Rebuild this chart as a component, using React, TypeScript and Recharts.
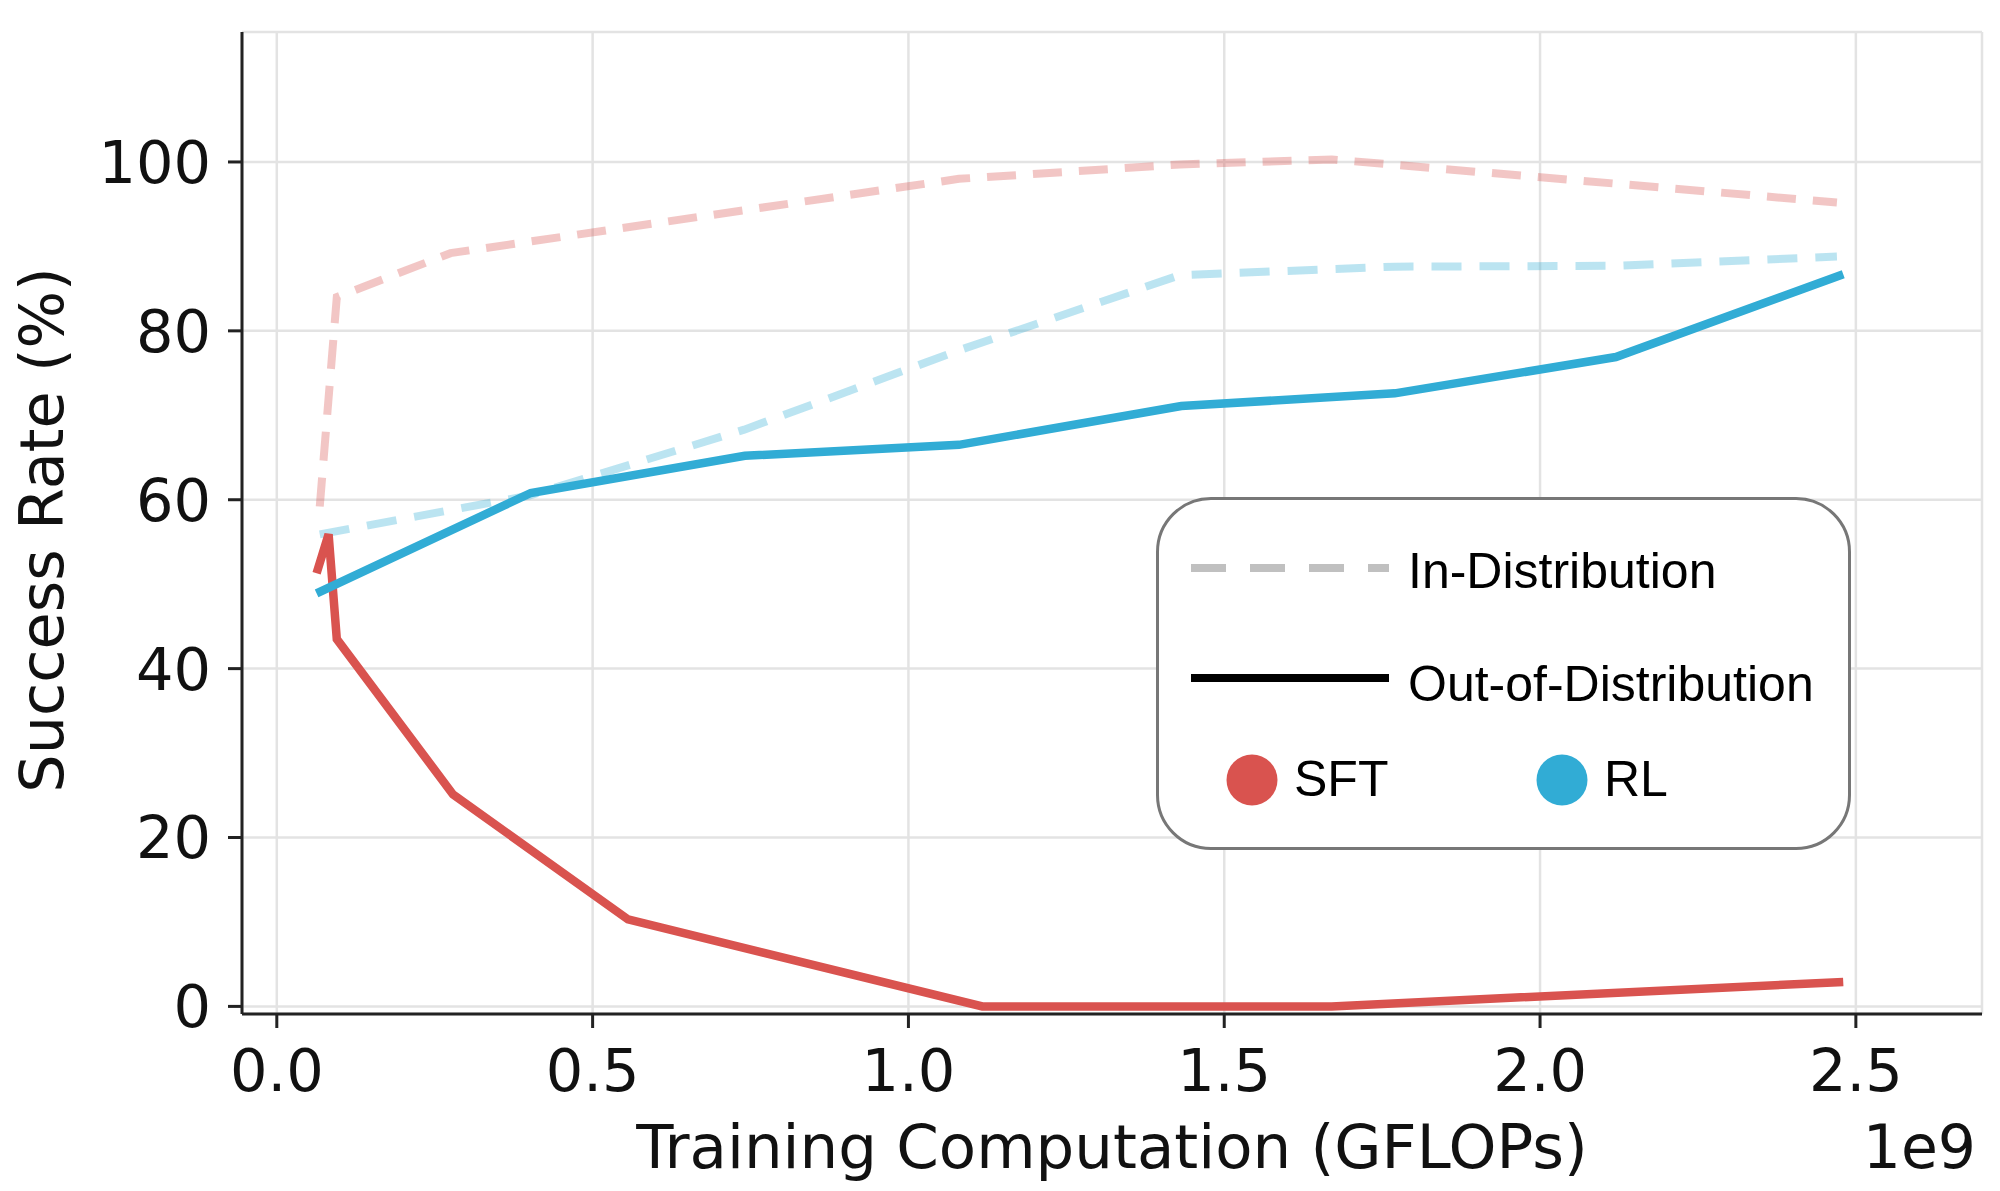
import React from "react";
import { LineChart, Line, XAxis, YAxis, CartesianGrid, Legend, Label } from "recharts";

// ---- data (x in units of 1e9 GFLOPs, y in %) ----
const sftIdX = [0.068, 0.095, 0.275, 1.08, 1.43, 1.67, 2.47];
const sftIdY = [59.2, 84.0, 89.2, 98.0, 99.7, 100.3, 95.2];

const rlIdX = [0.068, 0.40, 0.74, 1.08, 1.43, 1.77, 2.12, 2.47];
const rlIdY = [55.9, 60.5, 68.3, 77.7, 86.6, 87.6, 87.7, 88.8];

const sftOodX = [0.063, 0.082, 0.095, 0.279, 0.556, 1.117, 1.67, 2.48];
const sftOodY = [51.3, 55.9, 43.5, 25.1, 10.3, 0, 0, 2.9];

const rlOodX = [0.063, 0.402, 0.741, 1.08, 1.432, 1.77, 2.12, 2.48];
const rlOodY = [48.9, 60.8, 65.2, 66.5, 71.1, 72.6, 76.9, 86.7];

const xTicks = [0, 0.5, 1.0, 1.5, 2.0, 2.5];
const yTicks = [0, 20, 40, 60, 80, 100];
const xDomain = [-0.0551, 2.6997];
const yDomain = [-0.9, 115.39];

const xTitle = "Training Computation (GFLOPs)";
const xExponent = "1e9";
const yTitle = "Success Rate (%)";

const styleItems = [
  { label: "In-Distribution", dashed: true },
  { label: "Out-of-Distribution", dashed: false },
];
const methodItems = [
  { label: "SFT", color: "#D9534F" },
  { label: "RL", color: "#31ACD5" },
];

const RED = "#D9534F";
const BLUE = "#31ACD5";

const toPoints = (xs: number[], ys: number[]) => xs.map((x, i) => ({ x, y: ys[i] }));
const sftId = toPoints(sftIdX, sftIdY);
const rlId = toPoints(rlIdX, rlIdY);
const sftOod = toPoints(sftOodX, sftOodY);
const rlOod = toPoints(rlOodX, rlOodY);

const AXIS_FONT = "DejaVu Sans";
const LEGEND_FONT = "Liberation Sans, Arial, sans-serif";

function LegendBox() {
  return (
    <div
      style={{
        position: "relative",
        boxSizing: "border-box",
        width: 695,
        height: 353,
        border: "3px solid #777",
        borderRadius: 55,
        background: "#fff",
      }}
    >
      <svg
        width={695}
        height={353}
        style={{ position: "absolute", left: -3, top: -3, overflow: "visible" }}
      >
        {styleItems.map((it, i) => {
          const y = i === 0 ? 71 : 181;
          const ty = i === 0 ? 91 : 204;
          return (
            <g key={it.label}>
              <line
                x1={35}
                x2={233}
                y1={y}
                y2={y}
                stroke={it.dashed ? "#C0C0C0" : "#000"}
                strokeWidth={8}
                strokeDasharray={it.dashed ? "35 24" : undefined}
              />
              <text x={252} y={ty} fontFamily={LEGEND_FONT} fontSize={50} fill="#000">
                {it.label}
              </text>
            </g>
          );
        })}
        {methodItems.map((it, i) => {
          const cx = i === 0 ? 96 : 406;
          return (
            <g key={it.label}>
              <circle cx={cx} cy={283} r={25.5} fill={it.color} />
              <text x={cx + 42} y={299} fontFamily={LEGEND_FONT} fontSize={50} fill="#000">
                {it.label}
              </text>
            </g>
          );
        })}
      </svg>
    </div>
  );
}

export default function App() {
  return (
    <div style={{ position: "absolute", left: 0, top: 0, width: 2000, height: 1191, background: "#fff" }}>
      <LineChart width={2000} height={1191} margin={{ top: 32, right: 18, bottom: 77, left: 112 }}>
        <CartesianGrid stroke="#E3E3E3" strokeWidth={2.5} />
        <XAxis
          type="number"
          dataKey="x"
          domain={xDomain}
          ticks={xTicks}
          interval={0}
          allowDataOverflow
          tickFormatter={(v: number) => v.toFixed(1)}
          height={100}
          tickSize={14}
          tickMargin={21}
          axisLine={{ stroke: "#222", strokeWidth: 3 }}
          tickLine={{ stroke: "#222", strokeWidth: 3 }}
          tick={{ fontSize: 59, fill: "#111", fontFamily: AXIS_FONT }}
        >
          <Label
            content={() => (
              <g>
                <text x={1112} y={1168} textAnchor="middle" fontFamily={AXIS_FONT} fontSize={61} fill="#111">
                  {xTitle}
                </text>
                <text x={1976} y={1168} textAnchor="end" fontFamily={AXIS_FONT} fontSize={60} fill="#111">
                  {xExponent}
                </text>
              </g>
            )}
          />
        </XAxis>
        <YAxis
          type="number"
          domain={yDomain}
          ticks={yTicks}
          interval={0}
          allowDataOverflow
          width={130}
          tickSize={14}
          tickMargin={17}
          axisLine={{ stroke: "#222", strokeWidth: 3 }}
          tickLine={{ stroke: "#222", strokeWidth: 3 }}
          tick={{ fontSize: 59, fill: "#111", fontFamily: AXIS_FONT }}
        >
          <Label
            content={() => (
              <text
                x={63}
                y={530}
                transform="rotate(-90 63 530)"
                textAnchor="middle"
                fontFamily={AXIS_FONT}
                fontSize={60.5}
                fill="#111"
              >
                {yTitle}
              </text>
            )}
          />
        </YAxis>
        <Legend
          layout="vertical"
          align="center"
          verticalAlign="middle"
          wrapperStyle={{ left: 1156, top: 497, width: 695, height: 353 }}
          content={() => <LegendBox />}
        />
        <Line
          data={sftId}
          dataKey="y"
          type="linear"
          stroke={RED}
          strokeOpacity={0.33}
          strokeWidth={8}
          strokeDasharray="29 17"
          dot={false}
          activeDot={false}
          isAnimationActive={false}
        />
        <Line
          data={rlId}
          dataKey="y"
          type="linear"
          stroke={BLUE}
          strokeOpacity={0.33}
          strokeWidth={8}
          strokeDasharray="30 18"
          dot={false}
          activeDot={false}
          isAnimationActive={false}
        />
        <Line
          data={sftOod}
          dataKey="y"
          type="linear"
          stroke={RED}
          strokeWidth={8.5}
          dot={false}
          activeDot={false}
          isAnimationActive={false}
        />
        <Line
          data={rlOod}
          dataKey="y"
          type="linear"
          stroke={BLUE}
          strokeWidth={8.5}
          dot={false}
          activeDot={false}
          isAnimationActive={false}
        />
      </LineChart>
    </div>
  );
}
